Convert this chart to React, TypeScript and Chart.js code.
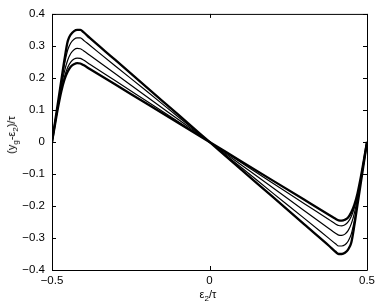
import React, { useEffect, useRef } from "react";
import { Chart, registerables } from "chart.js";

Chart.register(...registerables);

const xs = [-0.5, -0.49, -0.48, -0.47, -0.46, -0.45, -0.44, -0.43, -0.42, -0.41, -0.4, -0.38, -0.3, -0.2, -0.1, 0, 0.1, 0.2, 0.3, 0.38, 0.4, 0.41, 0.42, 0.43, 0.44, 0.45, 0.46, 0.47, 0.48, 0.49, 0.5];

const curveA = [0, 0.065, 0.13, 0.195, 0.26, 0.315, 0.336, 0.346, 0.35, 0.35, 0.343, 0.325, 0.257, 0.171, 0.086, 0, -0.086, -0.171, -0.257, -0.325, -0.343, -0.35, -0.35, -0.346, -0.336, -0.315, -0.26, -0.195, -0.13, -0.065, 0];
const curveB = [0, 0.063, 0.126, 0.188, 0.245, 0.288, 0.31, 0.321, 0.325, 0.325, 0.318, 0.302, 0.238, 0.159, 0.079, 0, -0.079, -0.159, -0.238, -0.302, -0.318, -0.325, -0.325, -0.321, -0.31, -0.288, -0.245, -0.188, -0.126, -0.063, 0];
const curveC = [0, 0.06, 0.12, 0.175, 0.222, 0.256, 0.277, 0.288, 0.292, 0.291, 0.285, 0.271, 0.214, 0.142, 0.071, 0, -0.071, -0.142, -0.214, -0.271, -0.285, -0.291, -0.292, -0.288, -0.277, -0.256, -0.222, -0.175, -0.12, -0.06, 0];
const curveD = [0, 0.058, 0.115, 0.165, 0.205, 0.233, 0.25, 0.259, 0.262, 0.261, 0.256, 0.243, 0.192, 0.128, 0.064, 0, -0.064, -0.128, -0.192, -0.243, -0.256, -0.261, -0.262, -0.259, -0.25, -0.233, -0.205, -0.165, -0.115, -0.058, 0];
const curveE = [0, 0.057, 0.112, 0.16, 0.196, 0.22, 0.236, 0.243, 0.246, 0.245, 0.24, 0.228, 0.18, 0.12, 0.06, 0, -0.06, -0.12, -0.18, -0.228, -0.24, -0.245, -0.246, -0.243, -0.236, -0.22, -0.196, -0.16, -0.112, -0.057, 0];

const series = [curveA, curveB, curveC, curveD, curveE];
const widths = [2.3, 1.2, 1.2, 1.2, 2.3];

const yTicks = [-0.4, -0.3, -0.2, -0.1, 0, 0.1, 0.2, 0.3, 0.4];
const xTicks = [-0.5, 0, 0.5];

const FONT = "'Liberation Sans', Arial, Helvetica, sans-serif";

const fmt = (v: number) => {
  const r = Math.round(v * 10) / 10;
  if (r === 0) return "0";
  const s = Math.abs(r).toString();
  return r < 0 ? "\u2212" + s : s;
};

const boxTicks = {
  id: "boxTicks",
  afterDraw(chart: any) {
    const { ctx, chartArea } = chart;
    const { left, right, top, bottom } = chartArea;
    const xs_ = chart.scales.x;
    const ys_ = chart.scales.y;
    ctx.save();
    ctx.strokeStyle = "#000";
    ctx.lineWidth = 1;
    ctx.beginPath();
    ctx.rect(left + 0.5, top + 0.5, right - left, bottom - top);
    ctx.stroke();
    const L = 4;
    ctx.beginPath();
    for (const t of xTicks) {
      const px = Math.round(xs_.getPixelForValue(t)) + 0.5;
      ctx.moveTo(px, bottom);
      ctx.lineTo(px, bottom - L);
      ctx.moveTo(px, top);
      ctx.lineTo(px, top + L);
    }
    for (const t of yTicks) {
      const py = Math.round(ys_.getPixelForValue(t)) + 0.5;
      ctx.moveTo(left, py);
      ctx.lineTo(left + L, py);
      ctx.moveTo(right, py);
      ctx.lineTo(right - L, py);
    }
    ctx.stroke();
    ctx.restore();
  },
};

export default function App() {
  const ref = useRef<HTMLCanvasElement | null>(null);
  useEffect(() => {
    document.body.style.margin = "0";
    const chart = new Chart(ref.current as HTMLCanvasElement, {
      type: "line",
      data: {
        datasets: series.map((s, i) => ({
          data: xs.map((x, j) => ({ x, y: s[j] })),
          borderColor: "#000",
          borderWidth: widths[i],
          pointRadius: 0,
          fill: false,
          cubicInterpolationMode: "monotone" as const,
        })),
      },
      options: {
        animation: false,
        responsive: false,
        maintainAspectRatio: false,
        layout: { padding: { left: 0, right: 15, top: 10, bottom: 0 } },
        plugins: { legend: { display: false }, tooltip: { enabled: false } },
        scales: {
          x: {
            type: "linear",
            min: -0.5,
            max: 0.5,
            afterBuildTicks: (scale: any) => {
              scale.ticks = xTicks.map((v) => ({ value: v }));
            },
            afterFit: (scale: any) => {
              scale.height = 35;
            },
            grid: { display: false, drawTicks: false },
            border: { display: false },
            ticks: {
              color: "#000",
              padding: 4,
              maxRotation: 0,
              font: { family: FONT, size: 11.5 },
              callback: (v: any) => fmt(Number(v)),
            },
          },
          y: {
            type: "linear",
            min: -0.4,
            max: 0.4,
            afterBuildTicks: (scale: any) => {
              scale.ticks = yTicks.map((v) => ({ value: v }));
            },
            afterFit: (scale: any) => {
              scale.width = 52;
            },
            grid: { display: false, drawTicks: false },
            border: { display: false },
            ticks: {
              color: "#000",
              padding: 7,
              font: { family: FONT, size: 11.5 },
              callback: (v: any) => fmt(Number(v)),
            },
          },
        },
      },
      plugins: [boxTicks],
    });
    return () => chart.destroy();
  }, []);

  const labelStyle: React.CSSProperties = {
    position: "absolute",
    fontFamily: FONT,
    fontSize: "11px",
    color: "#000",
    whiteSpace: "nowrap",
    lineHeight: 1,
  };
  const subStyle: React.CSSProperties = { fontSize: "8px", verticalAlign: "-3px" };

  return (
    <div style={{ position: "relative", width: 382, height: 305, background: "#fff" }}>
      <canvas ref={ref} width={382} height={305} style={{ display: "block" }} />
      <div style={{ ...labelStyle, left: 208, top: 296, transform: "translate(-50%, -50%)" }}>
        ε<span style={subStyle}>2</span>/τ
      </div>
      <div
        style={{
          ...labelStyle,
          left: 13,
          top: 135,
          transform: "translate(-50%, -50%) rotate(-90deg)",
        }}
      >
        (y<span style={subStyle}>g</span>-ε<span style={subStyle}>2</span>)/τ
      </div>
    </div>
  );
}
